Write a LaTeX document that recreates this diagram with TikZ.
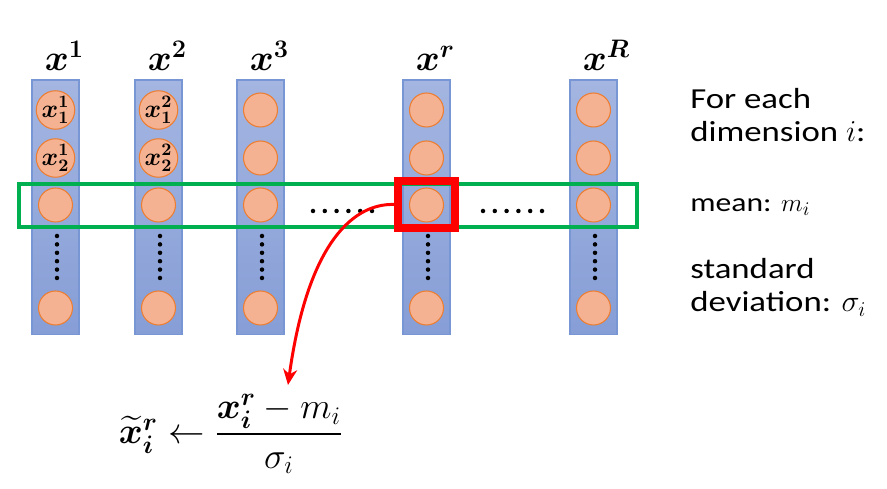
\documentclass[tikz,border=0pt]{standalone}
\usepackage{amsmath}
\usepackage{bm}
\usepackage{fontspec}
\newfontfamily\carlito[FakeStretch=1.2]{Carlito}
\usetikzlibrary{arrows.meta}
\definecolor{bartop}{RGB}{164,181,225}
\definecolor{barbot}{RGB}{134,158,214}
\definecolor{barline}{RGB}{120,150,212}
\definecolor{unitfill}{RGB}{245,178,146}
\definecolor{unitline}{RGB}{237,125,49}
\definecolor{rowgreen}{RGB}{0,176,80}
\tikzset{
  feature/.style={rectangle, minimum width=0.94cm, minimum height=5.1cm, inner sep=0pt,
    top color=bartop, bottom color=barbot, draw=barline, line width=0.6pt},
  unit/.style={circle, minimum size=0.68cm, inner sep=0pt, fill=unitfill, draw=unitline,
    line width=0.6pt, font=\fontsize{14.5}{14.5}\selectfont},
  head/.style={anchor=base west, inner sep=0pt, font=\fontsize{22}{22}\selectfont},
  side/.style={anchor=base west, inner sep=0pt, font=\carlito\fontsize{16.5}{18}\selectfont},
}

\begin{document}
\begin{tikzpicture}[x=0.02cm, y=-0.02cm]
  \useasboundingbox (0,0) rectangle (887,489);
  % the R feature vectors
  \foreach \n/\cx/\sup in {1/55.5/1, 2/158.5/2, 3/260.5/3, r/426.5/r, R/593.5/R} {
    \node[feature] (bar\n) at (\cx,207.5) {};
    \node[head] (head\n) at (\cx-11,71) {$\bm{x^{\sup}}$};
    \node[unit] (u\n-3) at (\cx,205) {};
    \node[unit] (u\n-4) at (\cx,308) {};
    \foreach \k in {0,...,5}
      \fill (\cx+1.5,236+\k*8.4) circle (0.045cm);
  }
  \node[unit] (u1-1) at (55.5,110) {$\bm{x_1^1}$};
  \node[unit] (u1-2) at (55.5,158) {$\bm{x_2^1}$};
  \node[unit] (u2-1) at (158.5,110) {$\bm{x_1^2}$};
  \node[unit] (u2-2) at (158.5,158) {$\bm{x_2^2}$};
  \foreach \n/\cx in {3/260.5, r/426.5, R/593.5} {
    \node[unit] (u\n-1) at (\cx,110) {};
    \node[unit] (u\n-2) at (\cx,158) {};
  }
  % dots between the columns
  \foreach \k in {0,...,5} {
    \fill (313+\k*11.8,211) circle (0.045cm);
    \fill (483+\k*11.8,211) circle (0.045cm);
  }

  % dimension i over all examples
  \draw[rowgreen, line width=2.3pt] (19,184) rectangle (637,227);
  \node[draw=red, line width=4pt, minimum width=1.14cm, minimum height=0.94cm, inner sep=0pt]
    (pick) at (426.5,204.5) {};

  % the formula
  \node[font=\fontsize{20.5}{24}\selectfont, inner sep=0pt] (norm) at (231,434)
    {$\bm{\widetilde{x}_i^r} \leftarrow \dfrac{\bm{x_i^r} - m_i}{\sigma_i}$};
  \coordinate (tip) at (288,385);
  \draw[red, line width=1.7pt, -{Stealth[length=9pt, width=8pt]}]
    (pick.west) .. controls (355,203) and (308,240) .. (tip);

  % text on the right
  \node[side] (each) at (690,109) {For each};
  \node[side] (dim) at (690,142) {dimension $i$:};
  \node[side, font=\carlito\fontsize{15}{17}\selectfont] (mean) at (690,212) {mean: $m_i$};
  \node[side] (std) at (690,279) {standard};
  \node[side] (dev) at (690,312) {deviation: $\sigma_i$};
\end{tikzpicture}
\end{document}
